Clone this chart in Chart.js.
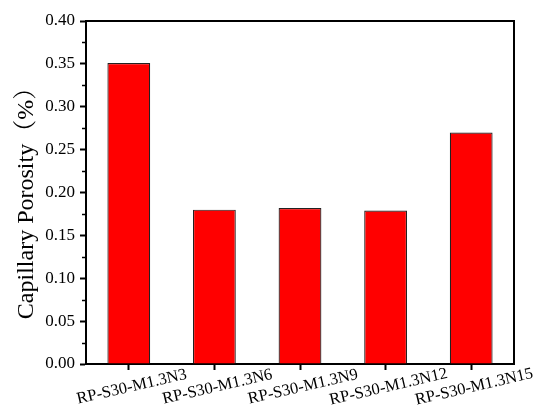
<!DOCTYPE html>
<html>
<head>
<meta charset="utf-8">
<script src="https://cdn.jsdelivr.net/npm/chart.js@4"></script>
<style>
html,body{margin:0;padding:0;background:#fff;}
canvas{display:block;}
</style>
</head>
<body>
<canvas id="c" width="550" height="418"></canvas>
<script>
const categories = ["RP-S30-M1.3N3", "RP-S30-M1.3N6", "RP-S30-M1.3N9", "RP-S30-M1.3N12", "RP-S30-M1.3N15"];
const porosity = [0.351, 0.180, 0.182, 0.179, 0.270];
const yTitle = "Capillary Porosity（%）";
const yMin = 0, yMax = 0.40, yStep = 0.05;

const FONT = '"Liberation Serif", "Times New Roman", "Noto Serif CJK SC", "Noto Sans CJK SC", serif';

const framePlugin = {
  id: 'frame',
  afterDraw(chart) {
    const ctx = chart.ctx, a = chart.chartArea;
    const ys = chart.scales.y, xs = chart.scales.x;
    ctx.save();
    ctx.strokeStyle = '#000';
    ctx.lineWidth = 2;
    ctx.beginPath();
    ctx.moveTo(a.left, a.top); ctx.lineTo(a.right, a.top); ctx.lineTo(a.right, a.bottom);
    ctx.stroke();
    // minor ticks on y axis
    ctx.lineWidth = 1.5;
    const ticks = ys.ticks;
    for (let i = 0; i < ticks.length - 1; i++) {
      const v = (ticks[i].value + ticks[i + 1].value) / 2;
      const py = Math.round(ys.getPixelForValue(v)) + 0.5;
      ctx.beginPath();
      ctx.moveTo(a.left - 4, py); ctx.lineTo(a.left, py);
      ctx.stroke();
    }
    ctx.fillStyle = '#000';
    // y axis title
    ctx.save();
    ctx.font = '24px ' + FONT;
    ctx.textAlign = 'center';
    ctx.textBaseline = 'middle';
    ctx.translate(27, (a.top + a.bottom) / 2 + 5);
    ctx.rotate(-Math.PI / 2);
    ctx.fillText(yTitle, 0, 0);
    ctx.restore();
    // rotated x labels centred on ticks
    ctx.font = '16.5px ' + FONT;
    ctx.textAlign = 'center';
    ctx.textBaseline = 'middle';
    categories.forEach((lab, i) => {
      const px = xs.getPixelForTick(i);
      ctx.save();
      ctx.translate(px + 3, a.bottom + 23);
      ctx.rotate(-13 * Math.PI / 180);
      ctx.fillText(lab, 0, 0);
      ctx.restore();
    });
    ctx.restore();
  }
};

new Chart(document.getElementById('c'), {
  type: 'bar',
  data: {
    labels: categories,
    datasets: [{
      data: porosity,
      backgroundColor: '#ff0000',
      borderColor: '#222',
      borderWidth: 1.2,
      barPercentage: 0.5,
      categoryPercentage: 1.0
    }]
  },
  options: {
    responsive: false,
    animation: false,
    devicePixelRatio: 1,
    layout: { padding: { top: 21, right: 36, left: 0, bottom: 0 } },
    plugins: { legend: { display: false }, tooltip: { enabled: false } },
    scales: {
      x: {
        offset: true,
        grid: { display: true, offset: false, drawOnChartArea: false, drawTicks: true, tickLength: 6, tickWidth: 2, tickColor: '#000' },
        border: { display: true, color: '#000', width: 2 },
        ticks: { display: false },
        afterFit(s) { s.height = 54; }
      },
      y: {
        min: yMin, max: yMax,
        grid: { display: true, drawOnChartArea: false, drawTicks: true, tickLength: 6, tickWidth: 2, tickColor: '#000' },
        border: { display: true, color: '#000', width: 2 },
        ticks: {
          stepSize: yStep,
          padding: 5,
          color: '#000',
          font: { family: FONT, size: 17 },
          callback: v => v.toFixed(2)
        },
        afterFit(s) { s.width = 86; }
      }
    }
  },
  plugins: [framePlugin]
});
</script>
</body>
</html>
